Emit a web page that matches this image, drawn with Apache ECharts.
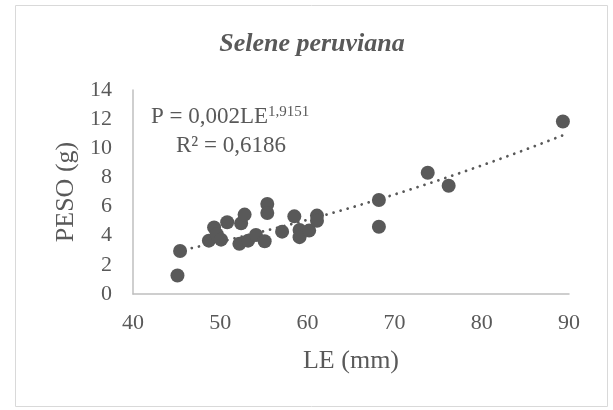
<!DOCTYPE html>
<html>
<head>
<meta charset="utf-8">
<script src="https://cdn.jsdelivr.net/npm/echarts@6/dist/echarts.min.js"></script>
<style>html,body{margin:0;padding:0;background:#fff}#c{width:613px;height:410px}</style>
</head>
<body>
<div id="c"></div>
<script>
var titleText = 'Selene peruviana';
var xName = 'LE (mm)';
var yName = 'PESO (g)';
var LE = [45.1, 45.4, 48.7, 49.3, 49.6, 50.1, 50.8, 52.2, 52.4, 52.8, 53.2, 54.1, 55.1, 55.4, 55.4, 57.1, 58.5, 59.1, 59.1, 60.2, 61.1, 61.1, 68.2, 68.2, 73.8, 76.2, 89.3];
var PESO = [1.27, 2.95, 3.66, 4.57, 4.1, 3.73, 4.92, 3.44, 4.85, 5.45, 3.66, 4.05, 3.62, 6.18, 5.56, 4.28, 5.33, 4.4, 3.9, 4.35, 5.38, 5.03, 6.45, 4.62, 8.32, 7.43, 11.84];
var trendA = 0.002, trendB = 1.9151;
var r2 = '0,6186';
var xTicks = [40, 50, 60, 70, 80, 90];
var yTicks = [0, 2, 4, 6, 8, 10, 12, 14];

var pts = LE.map(function (x, i) { return [x, PESO[i]]; });
var xmin = Math.min.apply(null, LE), xmax = Math.max.apply(null, LE);
var trend = [];
for (var k = 0; k <= 60; k++) {
  var x = xmin + (xmax - xmin) * k / 60;
  trend.push([x, trendA * Math.pow(x, trendB)]);
}
var txt = '#595959';
var font = '"Liberation Serif", "Times New Roman", serif';
var chart = echarts.init(document.getElementById('c'));
chart.setOption({
  animation: false,
  grid: { left: 133, right: 44, top: 90, bottom: 116 },
  xAxis: {
    type: 'value', min: xTicks[0], max: xTicks[xTicks.length - 1], interval: 10,
    name: xName, nameLocation: 'middle', nameGap: 54,
    nameTextStyle: { color: txt, fontFamily: font, fontSize: 26 },
    axisLine: { lineStyle: { color: '#bfbfbf', width: 1.5 } },
    axisTick: { show: false }, splitLine: { show: false },
    axisLabel: { color: txt, fontFamily: font, fontSize: 22, margin: 18 }
  },
  yAxis: {
    type: 'value', min: yTicks[0], max: yTicks[yTicks.length - 1], interval: 2,
    name: yName, nameLocation: 'middle', nameGap: 53,
    nameTextStyle: { color: txt, fontFamily: font, fontSize: 26 },
    axisLine: { show: true, lineStyle: { color: '#bfbfbf', width: 1.5 } },
    axisTick: { show: false }, splitLine: { show: false },
    axisLabel: { color: txt, fontFamily: font, fontSize: 22, margin: 21 }
  },
  series: [
    {
      type: 'line', data: trend, showSymbol: false, smooth: false, z: 1,
      lineStyle: { color: '#595959', width: 2.8, type: [0.01, 7.3], cap: 'round' }
    },
    {
      type: 'scatter', data: pts, symbolSize: 14, z: 2,
      itemStyle: { color: '#595959', opacity: 1 }
    }
  ],
  graphic: [
    { type: 'rect', shape: { x: 15.5, y: 5.5, width: 592, height: 401 }, style: { fill: 'none', stroke: '#d9d9d9', lineWidth: 1 } },
    { type: 'text', x: 312, y: 44, style: { text: titleText, fill: txt, font: 'italic bold 26px ' + font, textAlign: 'center', textVerticalAlign: 'middle' } },
    { type: 'text', x: 151, y: 105, style: {
        text: '{a|P = 0,002LE}{s|1,9151}',
        rich: {
          a: { fontFamily: font, fontSize: 23, fill: txt, verticalAlign: 'bottom' },
          s: { fontFamily: font, fontSize: 15, fill: txt, verticalAlign: 'top' }
        }
      } },
    { type: 'text', x: 176, y: 134, style: { text: 'R² = ' + r2, fill: txt, font: '23px ' + font } }
  ]
});
</script>
</body>
</html>
